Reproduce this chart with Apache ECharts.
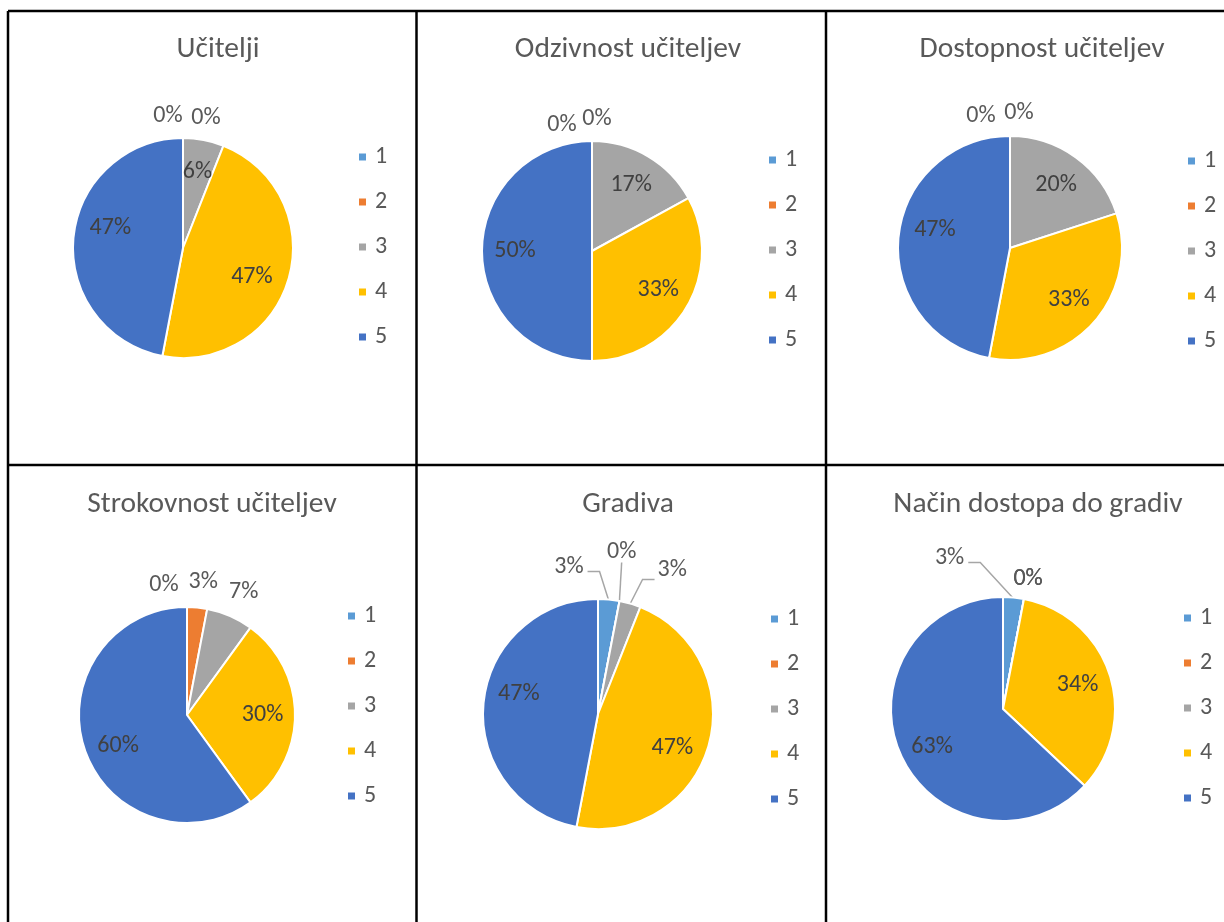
<!DOCTYPE html>
<html>
<head>
<meta charset="utf-8">
<script src="https://cdn.jsdelivr.net/npm/echarts@6/dist/echarts.min.js"></script>
<style>
  html, body { margin: 0; padding: 0; background: #fff; }
  #chart { width: 1224px; height: 922px; }
</style>
</head>
<body>
<div id="chart"></div>
<script>
const categories = ['1', '2', '3', '4', '5']
const titles = ['Učitelji', 'Odzivnost učiteljev', 'Dostopnost učiteljev', 'Strokovnost učiteljev', 'Gradiva', 'Način dostopa do gradiv']

// percent per answer 1..5
const ucitelji = [0, 0, 6, 47, 47]
const odzivnost = [0, 0, 17, 33, 50]
const dostopnost = [0, 0, 20, 33, 47]
const strokovnost = [0, 3, 7, 30, 60]
const gradiva = [3, 0, 3, 47, 47]
const nacinDostopa = [3, 0, 0, 34, 63]

const values = [ucitelji, odzivnost, dostopnost, strokovnost, gradiva, nacinDostopa]

const colors = ['#5B9BD5', '#ED7D31', '#A5A5A5', '#FFC000', '#4472C4']
const font = 'Carlito, Lato, "Open Sans", sans-serif'

// placement of each pie in its table cell
const cells = [
  { cx: 183, cy: 248, r: 110, tx: 218, ty: 50, lx: 357, ly: 157 },
  { cx: 592, cy: 251, r: 110, tx: 628, ty: 50, lx: 767, ly: 160 },
  { cx: 1010, cy: 248, r: 112, tx: 1042, ty: 50, lx: 1186, ly: 161 },
  { cx: 187, cy: 715, r: 108, tx: 212, ty: 505, lx: 346, ly: 616 },
  { cx: 598, cy: 714, r: 115, tx: 628, ty: 505, lx: 769, ly: 619 },
  { cx: 1003, cy: 709, r: 112, tx: 1038, ty: 505, lx: 1182, ly: 618 }
]

// labels placed outside the pie: shift from natural spot, and whether they get a leader line
const nudges = [
  { 0: [-15, 0], 1: [23, 2] },
  { 0: [-30, 6], 1: [5, 0] },
  { 0: [-29, 2], 1: [9, -1] },
  { 0: [-23, 0], 1: [4, -4], 2: [5, -4] },
  { 0: [-42, -11, true], 1: [-2, -27, true], 2: [36, -12, true] },
  { 0: [-66, -18, true], 1: [0, 2], 2: [0, 2] }
]

// small best-fit corrections for labels inside slices
const innerShift = [
  { 3: [-5, 8], 4: [4, -13] },
  {},
  { 4: [3, -11] },
  { 4: [3, 8] },
  { 3: [-3, 12], 4: [1, -12] },
  { 4: [1, 7] }
]

function midAngle(vals, i) {
  const total = vals.reduce((a, b) => a + b, 0)
  let before = 0
  for (let k = 0; k < i; k++) before += vals[k]
  return (before + vals[i] / 2) / total * Math.PI * 2
}

function makeLayout(ci) {
  const c = cells[ci]
  const vals = values[ci]
  return function (params) {
    const i = params.dataIndex
    const a = midAngle(vals, i)
    const sx = Math.sin(a)
    const sy = -Math.cos(a)
    const n = nudges[ci][i]
    if (!n) {
      const s = innerShift[ci][i] || [0, 0]
      return {
        x: c.cx + sx * c.r * 0.7 + s[0],
        y: c.cy + sy * c.r * 0.7 + s[1],
        align: 'center',
        verticalAlign: 'middle'
      }
    }
    const lx = c.cx + sx * (c.r + 22) + n[0]
    const ly = c.cy + sy * (c.r + 22) + n[1]
    const res = { x: lx, y: ly, align: 'center', verticalAlign: 'middle' }
    if (n[2]) {
      const w = params.labelRect.width
      const h = params.labelRect.height
      const p0 = [c.cx + sx * (c.r - 1), c.cy + sy * (c.r - 1)]
      let p1, p2
      if (lx + w / 2 < p0[0] - 4) {
        p2 = [lx + w / 2 + 4, ly + 5]
        p1 = [p2[0] + 12, p2[1]]
      } else if (lx - w / 2 > p0[0] + 4) {
        p2 = [lx - w / 2 - 3, ly + 9]
        p1 = [p2[0] - 12, p2[1]]
      } else {
        p2 = [lx, ly + h / 2 - 2]
        p1 = [lx, ly + h / 2 - 2]
      }
      res.labelLinePoints = [p0, p1, p2]
    }
    return res
  }
}

const chart = echarts.init(document.getElementById('chart'))

const series = values.map((vals, ci) => {
  const c = cells[ci]
  return {
    type: 'pie',
    center: [c.cx, c.cy],
    radius: c.r,
    startAngle: 90,
    clockwise: true,
    avoidLabelOverlap: false,
    animation: false,
    itemStyle: { borderColor: '#fff', borderWidth: 2 },
    emphasis: { disabled: true },
    labelLayout: makeLayout(ci),
    data: categories.map((name, i) => {
      const n = nudges[ci][i]
      return {
        name: name,
        value: vals[i],
        label: {
          show: true,
          position: n ? 'outside' : 'inside',
          formatter: vals[i] + '%',
          color: n ? '#595959' : '#404040',
          fontFamily: font,
          fontSize: 24
        },
        labelLine: {
          show: !!(n && n[2]),
          lineStyle: { color: '#A6A6A6', width: 1.5 }
        }
      }
    })
  }
})

const title = titles.map((t, ci) => ({
  text: t,
  left: cells[ci].tx,
  top: cells[ci].ty - 17,
  textAlign: 'center',
  padding: 0,
  textStyle: { color: '#595959', fontFamily: font, fontSize: 29.5, fontWeight: 'normal', lineHeight: 34 }
}))

const legend = cells.map(c => ({
  orient: 'vertical',
  left: c.lx,
  top: c.ly - 13.5,
  padding: 0,
  itemGap: 18,
  itemWidth: 9,
  itemHeight: 9,
  icon: 'rect',
  selectedMode: false,
  data: categories,
  textStyle: { color: '#595959', fontFamily: font, fontSize: 24, lineHeight: 27, padding: [0, 0, 0, 3] }
}))

const border = { stroke: '#000', lineWidth: 2.5 }
const graphic = [
  { type: 'line', shape: { x1: 8, y1: 11, x2: 1224, y2: 11 }, style: border },
  { type: 'line', shape: { x1: 8, y1: 465, x2: 1224, y2: 465 }, style: border },
  { type: 'line', shape: { x1: 8, y1: 11, x2: 8, y2: 922 }, style: border },
  { type: 'line', shape: { x1: 416.5, y1: 11, x2: 416.5, y2: 922 }, style: border },
  { type: 'line', shape: { x1: 826, y1: 11, x2: 826, y2: 922 }, style: border }
]

chart.setOption({
  color: colors,
  animation: false,
  title: title,
  legend: legend,
  graphic: graphic,
  series: series
})
</script>
</body>
</html>
